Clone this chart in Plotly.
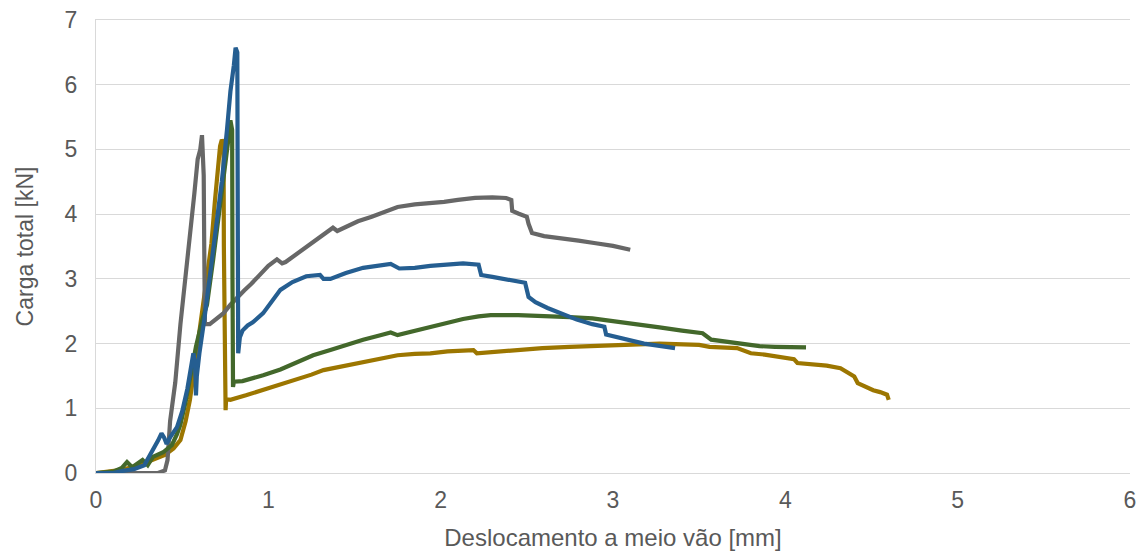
import plotly.graph_objects as go

# ---- data ----
gray_x = [0, 0.20, 0.36, 0.40, 0.415, 0.43, 0.46, 0.49, 0.52, 0.545, 0.57, 0.59, 0.605, 0.615, 0.622, 0.625, 0.628, 0.632,
          0.66, 0.70, 0.74, 0.78, 0.82, 0.86, 0.90, 0.95, 1.00, 1.05, 1.08, 1.10, 1.16, 1.22, 1.30, 1.375, 1.40, 1.45,
          1.52, 1.60, 1.68, 1.75, 1.85, 1.95, 2.02, 2.10, 2.20, 2.30, 2.38, 2.41, 2.415, 2.45, 2.50, 2.51, 2.53, 2.60,
          2.70, 2.80, 2.90, 3.00, 3.10]
gray_y = [0, 0, 0, 0.04, 0.2, 0.8, 1.4, 2.3, 3.0, 3.6, 4.3, 4.85, 5.0, 5.22, 4.9, 4.6, 3.5, 2.3,
          2.3, 2.38, 2.47, 2.6, 2.72, 2.82, 2.92, 3.07, 3.2, 3.3, 3.24, 3.26, 3.38, 3.49, 3.64, 3.79, 3.74, 3.81,
          3.89, 3.96, 4.04, 4.11, 4.15, 4.17, 4.19, 4.22, 4.25, 4.26, 4.25, 4.22, 4.05, 4.01, 3.96, 3.85, 3.71, 3.66,
          3.63, 3.59, 3.55, 3.51, 3.45]

blue_x = [0, 0.10, 0.15, 0.22, 0.28, 0.32, 0.36, 0.38, 0.395, 0.41, 0.43, 0.47, 0.50, 0.53, 0.55, 0.565, 0.575, 0.58,
          0.585, 0.60, 0.63, 0.66, 0.70, 0.73, 0.76, 0.78, 0.80, 0.81, 0.82, 0.822, 0.825, 0.835, 0.85, 0.88, 0.91,
          0.97, 1.02, 1.07, 1.14, 1.22, 1.30, 1.32, 1.36, 1.45, 1.55, 1.63, 1.71, 1.76, 1.85, 1.94, 2.05, 2.13, 2.22,
          2.235, 2.30, 2.40, 2.49, 2.51, 2.55, 2.62, 2.70, 2.79, 2.88, 2.95, 2.96, 3.05, 3.18, 3.28, 3.36]
blue_y = [0, 0, 0.03, 0.06, 0.12, 0.3, 0.5, 0.61, 0.55, 0.45, 0.55, 0.71, 0.95, 1.3, 1.6, 1.85, 1.7, 1.2,
          1.5, 1.85, 2.4, 3.0, 3.9, 4.5, 5.3, 5.9, 6.3, 6.57, 6.5, 4.0, 1.85, 2.1, 2.2, 2.28, 2.33,
          2.47, 2.65, 2.83, 2.95, 3.04, 3.06, 3.0, 3.0, 3.09, 3.17, 3.2, 3.23, 3.16, 3.17, 3.2, 3.23, 3.24, 3.22,
          3.06, 3.03, 2.99, 2.94, 2.72, 2.64, 2.55, 2.47, 2.37, 2.30, 2.26, 2.14, 2.08, 2.0, 1.96, 1.93]

green_x = [0, 0.10, 0.15, 0.18, 0.21, 0.24, 0.27, 0.30, 0.33, 0.39, 0.44, 0.47, 0.49, 0.52, 0.545, 0.58, 0.62, 0.644,
           0.68, 0.71, 0.737, 0.76, 0.775, 0.78, 0.79, 0.792, 0.795, 0.80, 0.85, 0.894, 0.97, 1.07, 1.166, 1.26, 1.36,
           1.45, 1.55, 1.65, 1.71, 1.75, 1.85, 1.94, 2.04, 2.13, 2.22, 2.29, 2.45, 2.59, 2.75, 2.88, 3.0, 3.08, 3.18,
           3.27, 3.40, 3.52, 3.57, 3.65, 3.75, 3.85, 3.94, 4.12]
green_y = [0, 0.02, 0.08, 0.17, 0.09, 0.15, 0.2, 0.12, 0.25, 0.32, 0.43, 0.6, 0.75, 1.1, 1.44, 1.95, 2.4, 2.6,
           3.3, 3.9, 4.42, 4.9, 5.3, 5.45, 5.3, 3.0, 1.33, 1.41, 1.42, 1.45, 1.51, 1.6, 1.72, 1.82, 1.9,
           1.98, 2.06, 2.13, 2.17, 2.13, 2.2, 2.26, 2.32, 2.38, 2.42, 2.44, 2.44, 2.43, 2.41, 2.39, 2.35, 2.32, 2.28,
           2.25, 2.2, 2.16, 2.06, 2.03, 1.99, 1.96, 1.95, 1.94]

gold_x = [0, 0.15, 0.25, 0.33, 0.40, 0.45, 0.49, 0.52, 0.545, 0.57, 0.60, 0.63, 0.67, 0.69, 0.71, 0.72, 0.73, 0.74,
          0.742, 0.745, 0.75, 0.752, 0.755, 0.78, 0.87, 0.97, 1.07, 1.166, 1.25, 1.32, 1.43, 1.55, 1.65, 1.75, 1.85,
          1.94, 2.04, 2.13, 2.19, 2.21, 2.25, 2.29, 2.40, 2.50, 2.59, 2.75, 2.88, 3.1, 3.27, 3.5, 3.56, 3.72, 3.80,
          3.88, 3.95, 4.05, 4.07, 4.15, 4.24, 4.32, 4.40, 4.42, 4.46, 4.51, 4.55, 4.59, 4.60]
gold_y = [0, 0.05, 0.12, 0.2, 0.28, 0.38, 0.51, 0.8, 1.13, 1.6, 2.2, 2.8, 3.55, 4.2, 4.75, 5.05, 5.15, 5.1,
          3.5, 1.95, 1.7, 0.97, 1.14, 1.13, 1.2, 1.28, 1.36, 1.44, 1.52, 1.59, 1.65, 1.72, 1.77, 1.82, 1.84,
          1.85, 1.88, 1.9, 1.9, 1.85, 1.86, 1.87, 1.89, 1.91, 1.93, 1.95, 1.96, 1.98, 2.0, 1.98, 1.95, 1.93, 1.85,
          1.83, 1.8, 1.76, 1.70, 1.68, 1.66, 1.62, 1.49, 1.39, 1.34, 1.28, 1.25, 1.21, 1.13]

x_ticks = [0, 1, 2, 3, 4, 5, 6]
y_ticks = [0, 1, 2, 3, 4, 5, 6, 7]

series = [
    (gold_x, gold_y, "#9C7600"),
    (gray_x, gray_y, "#676767"),
    (green_x, green_y, "#43682B"),
    (blue_x, blue_y, "#255E91"),
]

fig = go.Figure()
for xs, ys, col in series:
    fig.add_trace(go.Scatter(x=xs, y=ys, mode="lines",
                             line=dict(color=col, width=4.2),
                             showlegend=False, hoverinfo="skip", cliponaxis=False))

font_col = "#595959"
grid_col = "#D9D9D9"
# page body has an 8px default margin, so the figure is sized to fit the window
fig.update_layout(
    width=1139, height=549,
    margin=dict(l=88, r=17, t=12, b=84),
    paper_bgcolor="white", plot_bgcolor="white",
    font=dict(family="Liberation Sans, Arial, sans-serif", size=23, color=font_col),
    showlegend=False,
)
fig.update_xaxes(
    range=[0, 6], tickvals=x_ticks, ticktext=[str(v) for v in x_ticks],
    showgrid=False, zeroline=False, automargin=False,
    showline=True, mirror=True, linecolor=grid_col, linewidth=1.3,
    ticks="outside", ticklen=6, tickcolor="rgba(0,0,0,0)",
    ticklabeloverflow="allow",
    tickfont=dict(size=23, color=font_col),
    title=dict(text="Deslocamento a meio vão [mm]", font=dict(size=24, color=font_col), standoff=17),
)
fig.update_yaxes(
    range=[0, 7], tickvals=y_ticks, ticktext=[str(v) for v in y_ticks],
    showgrid=True, gridcolor=grid_col, gridwidth=1.3, automargin=False,
    zeroline=False, showline=True, linecolor=grid_col, linewidth=1.3,
    ticks="outside", ticklen=13, tickcolor="rgba(0,0,0,0)",
    ticklabeloverflow="allow",
    tickfont=dict(size=23, color=font_col),
    title=dict(text="Carga total [kN]", font=dict(size=23, color=font_col), standoff=24),
)

fig.write_html("out.html")
